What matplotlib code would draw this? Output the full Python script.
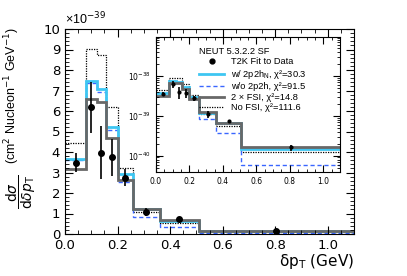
import numpy as np
import matplotlib
matplotlib.use("Agg")
import matplotlib.pyplot as plt
from matplotlib.ticker import MultipleLocator, LogLocator, NullFormatter
from matplotlib.lines import Line2D

plt.rcParams['font.family'] = ['DejaVu Sans']
plt.rcParams['mathtext.fontset'] = 'dejavusans'

# bin edges in delta p_T (GeV) and cross sections (x 1e-39 cm^2 / nucleon / GeV)
edges = [0, 0.08, 0.12, 0.155, 0.2, 0.26, 0.36, 0.51, 1.1]
data = [3.48, 6.18, 3.97, 3.74, 2.75, 1.09, 0.72, 0.16]
data_err = [0.46, 1.25, 1.3, 0.9, 0.4, 0.2, 0.07, 0.03]
w_2p2h = [3.66, 7.48, 7.07, 5.22, 2.91, 1.20, 0.64, 0.145]
wo_2p2h = [3.60, 7.35, 6.95, 5.07, 2.55, 0.85, 0.36, 0.06]
fsi_x2 = [3.17, 6.57, 6.45, 4.67, 2.63, 1.23, 0.67, 0.16]
no_fsi = [4.45, 9.02, 8.73, 6.21, 3.20, 1.09, 0.55, 0.12]

labels = ["T2K Fit to Data",
          r"w/ 2p2h$_{\mathregular{N}}$, χ²=30.3",
          "w/o 2p2h, χ²=91.5",
          "2 × FSI, χ²=14.8",
          "No FSI, χ²=111.6"]

CYAN = "#3ec6f2"
BLUE = "#3a66ff"
GRAY = "#686868"

edges = np.array(edges)
centers = 0.5 * (edges[1:] + edges[:-1])


def draw(ax, scale, ms):
    ax.stairs(np.array(no_fsi) * scale, edges, baseline=None, color="black", lw=0.9, ls=(0, (1, 1)))
    ax.stairs(np.array(wo_2p2h) * scale, edges, baseline=None, color=BLUE, lw=1.0, ls=(0, (3, 2)))
    ax.stairs(np.array(w_2p2h) * scale, edges, baseline=None, color=CYAN, lw=2.0)
    ax.stairs(np.array(fsi_x2) * scale, edges, baseline=None, color=GRAY, lw=2.0)
    ax.errorbar(centers, np.array(data) * scale, yerr=np.array(data_err) * scale,
                fmt="o", color="black", ms=ms, elinewidth=1.2, capsize=0)


fig = plt.figure(figsize=(4.07, 2.76), dpi=100)
ax = fig.add_axes([65 / 407, 1 - 234 / 276, 289 / 407, 205 / 276])
draw(ax, 1.0, 4)
ax.set_xlim(0, 1.1)
ax.set_ylim(0, 10)
ax.xaxis.set_major_locator(MultipleLocator(0.2))
ax.xaxis.set_minor_locator(MultipleLocator(0.05))
ax.yaxis.set_major_locator(MultipleLocator(1))
ax.yaxis.set_minor_locator(MultipleLocator(0.2))
ax.xaxis.set_major_formatter(lambda v, p: f"{v:.1f}")
ax.tick_params(which="both", direction="in", top=True, right=True, labelsize=9.5)
ax.tick_params(which="major", length=6)
ax.tick_params(which="minor", length=3)
ax.set_xlabel(r"$\mathregular{\delta p_{T}}$ (GeV)", loc="right", fontsize=11, labelpad=0)

# y axis title: units part and the fraction, ROOT style
fig.text(12 / 407, 1 - 27 / 276, r"(cm$^{2}$ Nucleon$^{-1}$ GeV$^{-1}$)", rotation=90,
         ha="center", va="top", fontsize=9, family="Liberation Sans")
fig.text(21 / 407, 1 - 192 / 276, r"$\dfrac{\mathrm{d}\sigma}{\mathrm{d}\delta p_{\mathrm{T}}}$",
         rotation=90, ha="center", va="center", fontsize=10)
fig.text(65 / 407, 1 - 24 / 276, r"×10$^{-39}$", fontsize=9, va="baseline", ha="left",
         family="Liberation Sans")

# inset on log scale
axi = fig.add_axes([156 / 407, 1 - 172 / 276, 184 / 407, 135 / 276])
draw(axi, 1e-39, 2)
axi.set_yscale("log")
axi.set_xlim(0, 1.1)
axi.set_ylim(3.9e-41, 9.3e-38)
axi.xaxis.set_major_locator(MultipleLocator(0.2))
axi.xaxis.set_minor_locator(MultipleLocator(0.05))
axi.xaxis.set_major_formatter(lambda v, p: f"{v:.1f}")
axi.yaxis.set_major_locator(LogLocator(base=10))
axi.yaxis.set_minor_locator(LogLocator(base=10, subs=np.arange(2, 10)))
axi.yaxis.set_minor_formatter(NullFormatter())
axi.tick_params(which="both", direction="in", top=True, right=True, labelsize=5.5)
axi.tick_params(which="major", length=5)
axi.tick_params(which="minor", length=2.5)

# legend
handles = [Line2D([], [], marker="o", color="black", ls="none", ms=3.5),
           Line2D([], [], color=CYAN, lw=2.0),
           Line2D([], [], color=BLUE, lw=1.0, ls=(0, (3, 2))),
           Line2D([], [], color=GRAY, lw=2.0),
           Line2D([], [], color="black", lw=0.9, ls=(0, (1, 1)))]
leg = fig.legend(handles, labels, loc="upper left", bbox_to_anchor=(199 / 407, 1 - 47 / 276),
                 frameon=False, prop={"family": "Liberation Sans", "size": 6.7},
                 title="NEUT 5.3.2.2 SF",
                 title_fontproperties={"family": "Liberation Sans", "size": 6.7},
                 alignment="left", handlelength=2.7, handletextpad=0.75, labelspacing=0.16,
                 borderpad=0, borderaxespad=0)

fig.savefig("out.png", dpi=100)
